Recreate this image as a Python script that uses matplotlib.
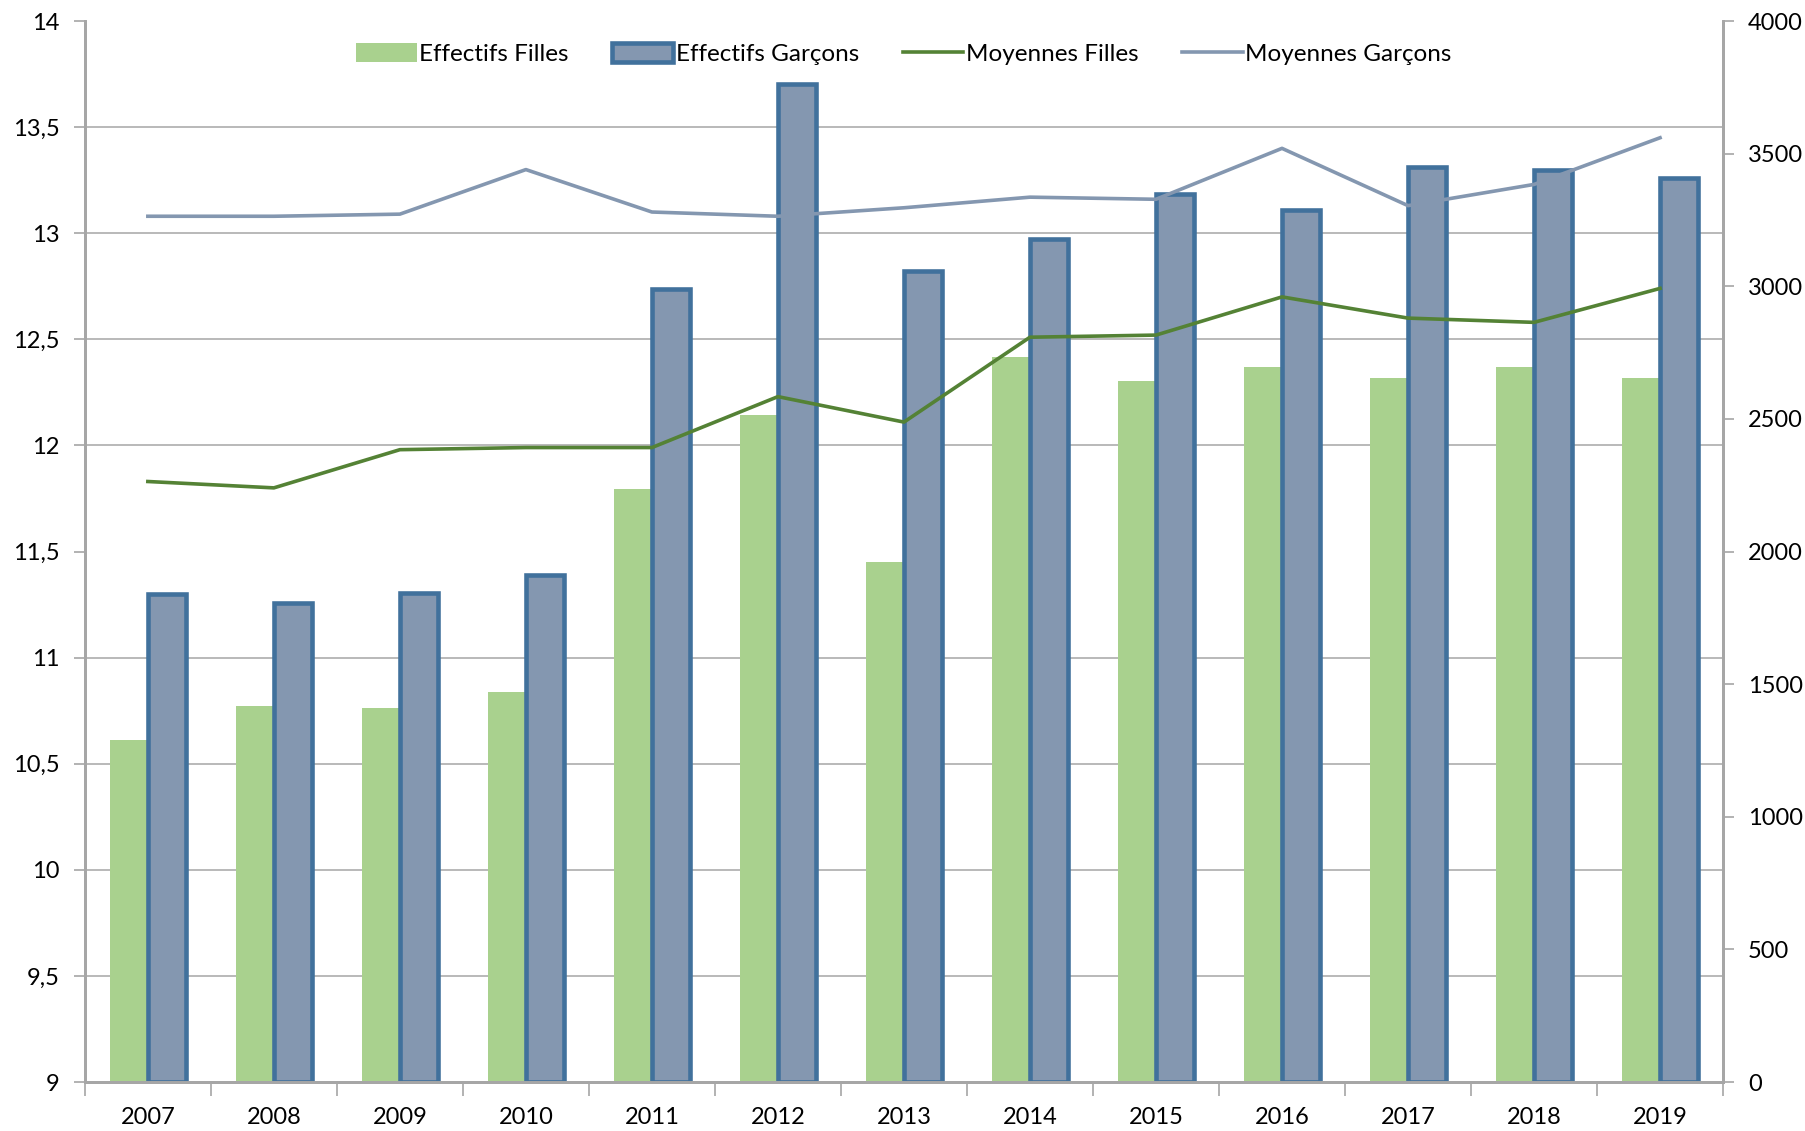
import numpy as np
import matplotlib
matplotlib.use("Agg")
import matplotlib.pyplot as plt
from matplotlib.ticker import MultipleLocator, FixedLocator, FuncFormatter

plt.rcParams['font.family'] = ['Lato', 'DejaVu Sans']

years = ['2007', '2008', '2009', '2010', '2011', '2012', '2013',
         '2014', '2015', '2016', '2017', '2018', '2019']
effectifs_filles = [1288, 1419, 1410, 1471, 2234, 2516, 1961,
                    2733, 2642, 2694, 2655, 2694, 2655]
effectifs_garcons = [1840, 1805, 1844, 1913, 2989, 3761, 3059,
                     3180, 3349, 3289, 3449, 3440, 3410]
moyennes_filles = [11.83, 11.80, 11.98, 11.99, 11.99, 12.23, 12.11,
                   12.51, 12.52, 12.70, 12.60, 12.58, 12.74]
moyennes_garcons = [13.08, 13.08, 13.09, 13.30, 13.10, 13.08, 13.12,
                    13.17, 13.16, 13.40, 13.13, 13.23, 13.45]

green_bar = '#A9D18E'
blue_face = '#8497B0'
blue_edge = '#41719C'
green_line = '#548235'
blue_line = '#8497B0'
grey = '#A6A6A6'

x = np.arange(len(years))
w = 0.30

fig = plt.figure(figsize=(18.05, 11.31), dpi=100)
ax = fig.add_axes([0.047, 0.0433, 0.9076, 0.9381])   # bars, right scale
ax2 = ax.twinx()                                       # lines, left scale

b1 = ax.bar(x - w / 2, effectifs_filles, width=w, color=green_bar,
            label='Effectifs Filles', zorder=2)
b2 = ax.bar(x + w / 2, effectifs_garcons, width=w, color=blue_face,
            edgecolor=blue_edge, linewidth=3.3, label='Effectifs Garçons', zorder=2)

l1, = ax2.plot(x, moyennes_filles, color=green_line, lw=2.6, label='Moyennes Filles')
l2, = ax2.plot(x, moyennes_garcons, color=blue_line, lw=2.6, label='Moyennes Garçons')

# bar axis -> right side
ax.set_ylim(0, 4000)
ax.set_xlim(-0.5, len(years) - 0.5)
ax.yaxis.tick_right()
ax.yaxis.set_major_locator(MultipleLocator(500))
ax.yaxis.set_minor_locator(MultipleLocator(400))   # gridlines of the left scale
ax.grid(axis='y', which='minor', color=grey, lw=1.1, zorder=0)
ax.tick_params(axis='y', which='minor', length=0)
ax.tick_params(axis='y', which='major', direction='out', length=8, width=1.2,
               color=grey, labelsize=17, pad=10)
ax.set_axisbelow(True)

# line axis -> left side
ax2.set_ylim(9, 14)
ax2.yaxis.tick_left()
ax2.yaxis.set_major_locator(MultipleLocator(0.5))
ax2.yaxis.set_major_formatter(FuncFormatter(lambda v, p: ('%g' % v).replace('.', ',')))
ax2.tick_params(axis='y', direction='out', length=8, width=1.2, color=grey,
                labelsize=17, pad=10)

# x axis: labels at centres, ticks at boundaries
ax.set_xticks(x)
ax.set_xticklabels(years, fontsize=17)
ax.xaxis.set_minor_locator(FixedLocator(np.arange(-0.5, len(years), 1.0)))
ax.tick_params(axis='x', which='major', length=0, pad=18)
ax.tick_params(axis='x', which='minor', direction='out', length=10, width=1.2, color=grey)

for a in (ax, ax2):
    a.spines['top'].set_visible(False)
    for s in ('left', 'right', 'bottom'):
        a.spines[s].set_color(grey)
        a.spines[s].set_linewidth(2)

leg = ax2.legend([b1, b2, l1, l2],
                 ['Effectifs Filles', 'Effectifs Garçons', 'Moyennes Filles', 'Moyennes Garçons'],
                 loc='upper center', bbox_to_anchor=(0.5, 1.0), ncol=4, frameon=False,
                 fontsize=17.5, handlelength=2.5, handleheight=0.85, handletextpad=0.1,
                 columnspacing=1.8)

fig.savefig('out.png', dpi=100)
